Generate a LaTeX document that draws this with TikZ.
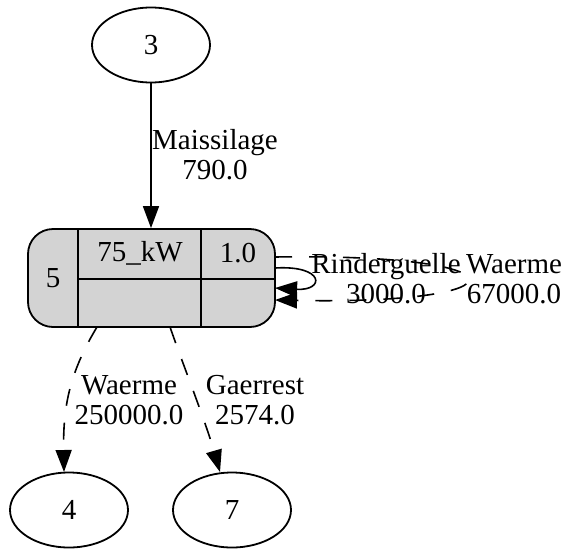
\documentclass[tikz,border=0pt]{standalone}
\usepackage{fontspec}
\setmainfont{Liberation Serif}
\usetikzlibrary{arrows.meta,shapes.geometric}
\definecolor{recfill}{HTML}{D3D3D3}
\begin{document}
\begin{tikzpicture}[x=1pt,y=-1pt,
  every node/.style={font=\fontsize{29}{30}\selectfont},
  ell/.style={draw, line width=1.8pt, ellipse, minimum width=118pt, minimum height=75pt, inner sep=0pt},
  rec/.style={draw, fill=recfill, rounded corners=25pt, line width=1.8pt, minimum width=247pt, minimum height=98pt, inner sep=0pt},
  cellline/.style={line width=2.4pt},
  conn/.style={line width=1.6pt, -{Triangle[length=22pt,width=16pt]}},
  dsh/.style={dash pattern=on 17pt off 17pt},
  lbl/.style={align=center, inner sep=0pt}]
\useasboundingbox (0,0) rectangle (567,549);
% nodes
\node[ell] (n3) at (151,45) {3};
\node[ell] (n4) at (69,510) {4};
\node[ell] (n7) at (232,510) {7};
\node[rec] (n5) at (151.5,278) {};
\draw[cellline] (78,229) -- (78,327);
\draw[cellline] (201,229) -- (201,327);
\draw[cellline] (78,279) -- (275,279);
\node (c5) at (53,278) {5};
\node (ckw) at (140,253) {75\_kW};
\node (cval) at (238,253) {1.0};
% connector end points
\coordinate (s1) at (275,268);
\coordinate (e1) at (275,288);
\coordinate (s2) at (275,257);
\coordinate (e2) at (275,300);
\coordinate (b1) at (97,327);
\coordinate (b2) at (170,327);
\coordinate (t4) at (64,472);
\coordinate (t7) at (220,472);
% connectors
\draw[conn] (n3.south) -- (n3.south |- n5.north);
\node[lbl] (lm) at (215,155) {Maissilage\\790.0};
\draw[conn] (s1) .. controls (325,265) and (325,291) .. (e1);
\draw[conn,dsh] (s2) .. controls (530,253) and (530,305) .. (e2);
\node[lbl] (lr) at (386,279) {Rinderguelle\\3000.0};
\node[lbl] (lw) at (514,279) {Waerme\\67000.0};
\draw[conn,dsh] (b1) .. controls (68,375) and (63,410) .. (t4);
\draw[conn,dsh] (b2) .. controls (185,370) and (205,420) .. (t7);
\node[lbl] (lw2) at (129,400) {Waerme\\250000.0};
\node[lbl] (lg) at (255,400) {Gaerrest\\2574.0};
\end{tikzpicture}
\end{document}
